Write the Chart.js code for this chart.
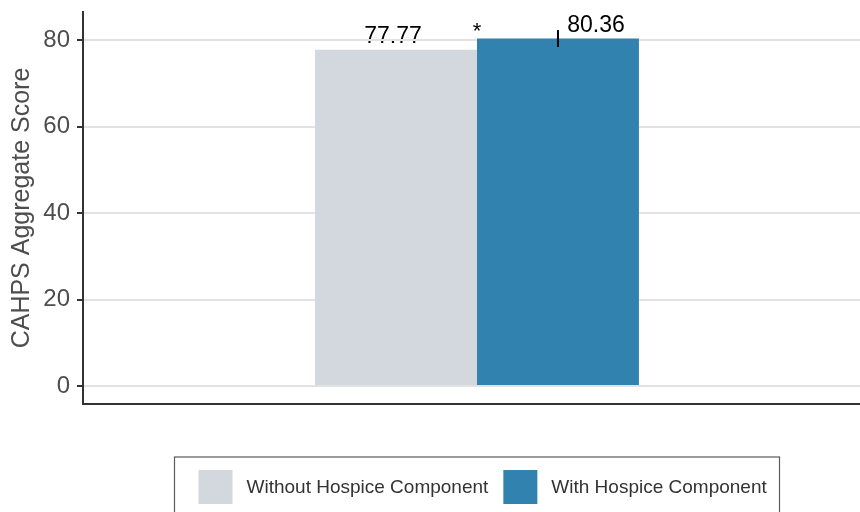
<!DOCTYPE html>
<html>
<head>
<meta charset="utf-8">
<script src="https://cdn.jsdelivr.net/npm/chart.js@4"></script>
<style>
  html, body { margin: 0; padding: 0; background: #fff; overflow: hidden; }
  #wrap { width: 880px; height: 520px; }
</style>
</head>
<body>
<div id="wrap"><canvas id="scoreChart" width="880" height="520"></canvas></div>
<script>
var groups = ["Without Hospice Component", "With Hospice Component"];
var scores = [77.77, 80.36];
var ciHalf = [null, 1.96];
var yTicks = [0, 20, 40, 60, 80];
var barColors = ["#d3d8df", "#3182ae"];
var sigMark = "*";

var FONT = "'Liberation Sans', Arial, sans-serif";
var labelShift = [-3, 38];

// value labels go under the grid so the 80 line crosses them
var valueLabels = {
  id: "valueLabels",
  beforeDraw: function (chart) {
    var ctx = chart.ctx;
    ctx.save();
    ctx.fillStyle = "#000";
    ctx.font = "23px " + FONT;
    ctx.textAlign = "center";
    ctx.textBaseline = "alphabetic";
    chart.data.datasets.forEach(function (ds, i) {
      var bar = chart.getDatasetMeta(i).data[0];
      ctx.fillText(ds.data[0].toFixed(2), bar.x + labelShift[i], bar.y - 7);
    });
    ctx.restore();
  }
};

// error bar + significance star
var extras = {
  id: "extras",
  afterDatasetsDraw: function (chart) {
    var ctx = chart.ctx, y = chart.scales.y;
    ctx.save();
    chart.data.datasets.forEach(function (ds, i) {
      if (!ciHalf[i]) return;
      var bar = chart.getDatasetMeta(i).data[0];
      var v = ds.data[0];
      ctx.strokeStyle = "#000";
      ctx.lineWidth = 2;
      ctx.beginPath();
      ctx.moveTo(bar.x, y.getPixelForValue(v + ciHalf[i]));
      ctx.lineTo(bar.x, y.getPixelForValue(v - ciHalf[i]));
      ctx.stroke();
    });
    var a = chart.getDatasetMeta(0).data[0];
    var b = chart.getDatasetMeta(1).data[0];
    var midX = (a.x + a.width / 2 + b.x - b.width / 2) / 2;
    ctx.fillStyle = "#000";
    ctx.font = "22px " + FONT;
    ctx.textAlign = "center";
    ctx.textBaseline = "alphabetic";
    ctx.fillText(sigMark, midX, y.getPixelForValue(Math.max.apply(null, scores)) - 1);
    ctx.restore();
  }
};

// boxed legend under the plot
var boxLegend = {
  id: "boxLegend",
  afterDraw: function (chart) {
    var ctx = chart.ctx, area = chart.chartArea;
    var cx = (area.left + area.right) / 2;
    var boxW = 605, left = cx - boxW / 2, top = area.bottom + 53;
    ctx.save();
    ctx.strokeStyle = "#5a5a5a";
    ctx.lineWidth = 1.2;
    ctx.strokeRect(left, top, boxW, 70);
    ctx.font = "19px " + FONT;
    ctx.textBaseline = "middle";
    ctx.textAlign = "left";
    var x = left + 24;
    chart.data.datasets.forEach(function (ds) {
      ctx.fillStyle = ds.backgroundColor;
      ctx.fillRect(x, top + 13, 34, 34);
      ctx.fillStyle = "#333";
      ctx.fillText(ds.label, x + 48, top + 31);
      x += 48 + ctx.measureText(ds.label).width + 15;
    });
    ctx.restore();
  }
};

var datasets = groups.map(function (g, i) {
  return {
    label: g,
    data: [scores[i]],
    backgroundColor: barColors[i],
    borderWidth: 0,
    categoryPercentage: 0.411,
    barPercentage: 1,
  };
});

new Chart(document.getElementById("scoreChart"), {
  type: "bar",
  data: { labels: [""], datasets: datasets },
  options: {
    responsive: false,
    animation: false,
    layout: { padding: { left: 0, right: 9, top: 12, bottom: 116 } },
    plugins: { legend: { display: false }, tooltip: { enabled: false } },
    scales: {
      x: {
        type: "category",
        grid: { display: false },
        ticks: { display: false },
        border: { display: true, color: "#333", width: 2 },
        afterFit: function (scale) {
          scale.height = 0;
          scale.paddingLeft = 0;
          scale.paddingRight = 0;
        },
      },
      y: {
        min: -4.16,
        max: 86.5,
        afterBuildTicks: function (scale) {
          scale.ticks = yTicks.map(function (v) { return { value: v }; });
        },
        afterFit: function (scale) {
          scale.width = 83;
          scale.paddingTop = 0;
          scale.paddingBottom = 0;
        },
        grid: {
          color: "#e2e2e2",
          lineWidth: 2,
          tickLength: 6,
          tickColor: "#333",
          tickWidth: 2,
        },
        border: { display: true, color: "#333", width: 2 },
        ticks: {
          color: "#4d4d4d",
          font: { family: FONT, size: 24 },
          padding: 7,
        },
        title: {
          display: true,
          text: "CAHPS Aggregate Score",
          color: "#4d4d4d",
          font: { family: FONT, size: 25 },
          padding: { top: 7, bottom: 0 },
        },
      },
    },
  },
  plugins: [valueLabels, extras, boxLegend],
});
</script>
</body>
</html>
